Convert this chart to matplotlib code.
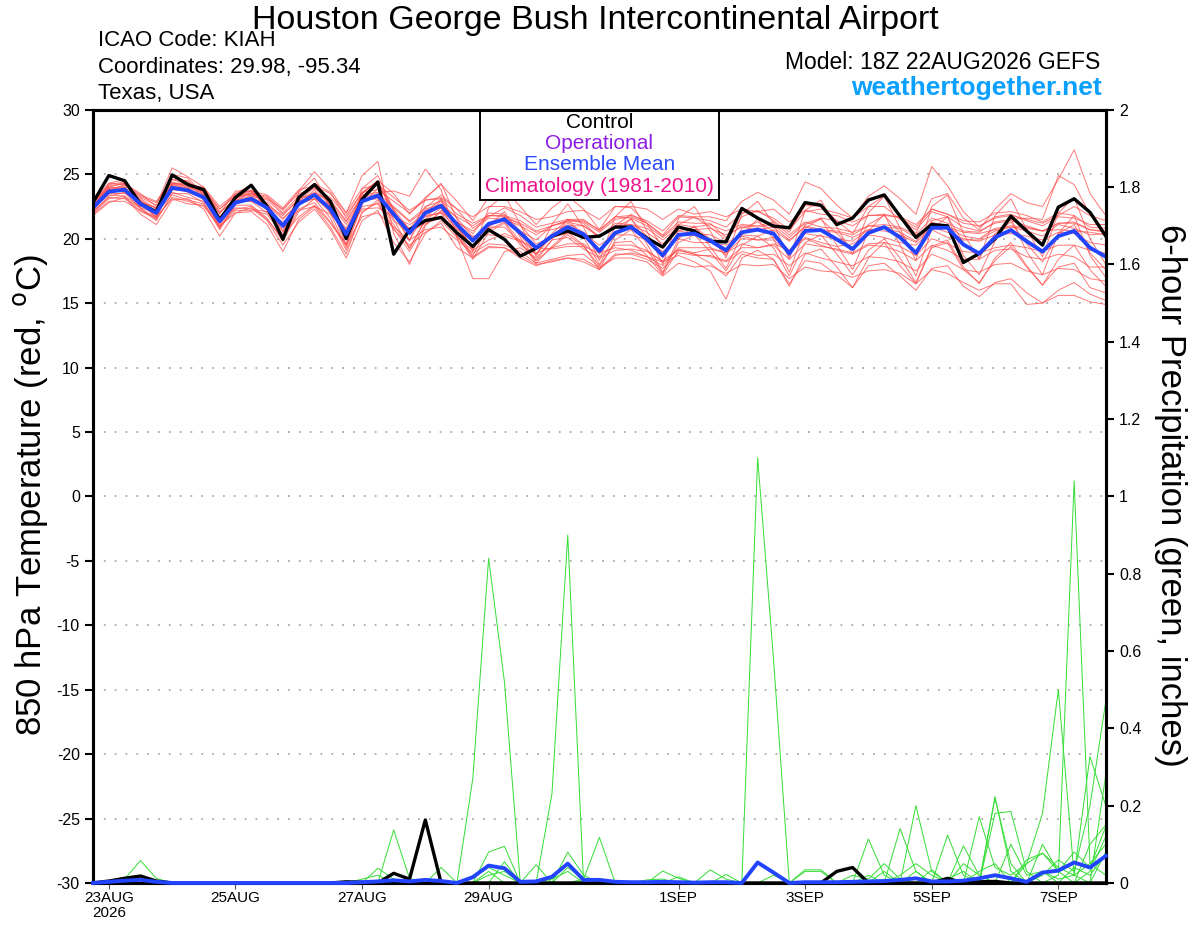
import matplotlib
matplotlib.use("Agg")
import matplotlib.pyplot as plt
from matplotlib.patches import Rectangle
import numpy as np
import pandas as pd

plt.rcParams['font.family'] = ['Liberation Sans', 'DejaVu Sans']
plt.rcParams['axes.unicode_minus'] = False

# 6-hourly valid times, 22AUG 18Z -> 7SEP 18Z
times = pd.date_range("2026-08-22 18:00", periods=65, freq="6h")

tick_dates = pd.to_datetime(["2026-08-23", "2026-08-25", "2026-08-27", "2026-08-29",
                             "2026-09-01", "2026-09-03", "2026-09-05", "2026-09-07"])
tick_labels = ["23AUG\n2026", "25AUG", "27AUG", "29AUG", "1SEP", "3SEP", "5SEP", "7SEP"]

# 850 hPa temperature, control and ensemble mean (C)
t_control = [22.8, 24.9, 24.5, 22.7, 22.1, 24.95, 24.2, 23.8, 21.45, 23.2,
             24.15, 22.5, 19.95, 23.2, 24.2, 22.9, 20.0, 23.05, 24.4, 18.8,
             20.7, 21.4, 21.65, 20.45, 19.4, 20.7, 19.95, 18.65, 19.25, 20.2,
             20.6, 20.1, 20.2, 20.9, 20.9, 20.05, 19.35, 20.9, 20.6, 19.8,
             19.75, 22.35, 21.6, 20.98, 20.85, 22.8, 22.6, 21.1, 21.6, 23.0,
             23.4, 21.75, 20.1, 21.1, 21.0, 18.15, 18.85, 20.0, 21.75, 20.6,
             19.5, 22.45, 23.1, 22.05, 20.2]
t_mean = [22.4, 23.65, 23.8, 22.7, 22.0, 23.95, 23.75, 23.2, 21.35, 22.8,
          23.1, 22.4, 21.0, 22.7, 23.4, 22.3, 20.35, 22.9, 23.35, 21.9,
          20.45, 22.0, 22.55, 21.1, 19.85, 21.15, 21.5, 20.45, 19.3, 20.2,
          20.9, 20.35, 19.05, 20.45, 20.9, 19.95, 18.7, 20.3, 20.4, 19.85,
          19.1, 20.5, 20.7, 20.4, 18.85, 20.6, 20.67, 19.95, 19.2, 20.45,
          20.9, 20.1, 18.9, 20.85, 20.85, 19.55, 18.85, 20.1, 20.67, 19.8,
          19.0, 20.2, 20.6, 19.3, 18.6]

# ensemble members (C)
t_members = [
    [22.7, 24.2, 24.4, 22.9, 22.1, 24.8, 24.4, 23.5, 21.6, 23.2, 23.8, 22.7, 20.8, 23.2, 24.2, 22.8, 20.5, 23.5, 24.4, 22.3,
     20.7, 22.5, 22.9, 20.9, 19.4, 20.9, 20.9, 19.7, 18.3, 19.3, 20.3, 19.4, 17.9, 19.7, 19.8, 18.7, 17.2, 19.1, 18.8, 18.1,
     17.1, 18.8, 18.5, 18.4, 16.5, 18.3, 18.1, 17.2, 16.2, 17.9, 18.1, 17.1, 16.0, 17.7, 17.9, 16.3, 15.5, 16.6, 16.9, 15.8,
     15.0, 16.0, 16.6, 15.7, 15.2],
    [22.1, 23.3, 23.6, 22.3, 21.4, 23.5, 23.5, 22.8, 20.7, 22.6, 22.6, 21.6, 19.8, 22.1, 23.1, 21.6, 19.1, 22.0, 23.0, 21.1,
     19.3, 21.4, 22.4, 20.3, 18.4, 20.5, 21.2, 19.5, 18.8, 20.4, 21.5, 21.2, 20.1, 21.0, 21.9, 21.2, 19.3, 21.1, 21.7, 20.9,
     19.9, 21.7, 22.2, 21.4, 20.5, 22.6, 22.5, 21.4, 20.4, 22.5, 23.3, 21.7, 20.4, 23.1, 23.5, 21.6, 20.7, 22.3, 23.5, 22.8,
     22.5, 24.6, 26.9, 23.5, 21.8],
    [22.5, 23.9, 23.7, 23.0, 22.0, 24.3, 24.3, 23.6, 22.0, 23.1, 23.5, 23.3, 22.2, 23.7, 25.2, 23.8, 22.0, 24.9, 26.0, 20.4,
     18.0, 21.0, 22.2, 21.3, 20.4, 22.0, 21.9, 20.6, 19.9, 21.0, 21.3, 21.0, 20.1, 21.2, 21.1, 20.5, 19.6, 20.6, 20.4, 20.3,
     19.7, 20.2, 19.9, 19.9, 18.9, 20.0, 19.5, 19.1, 18.8, 19.5, 19.4, 19.0, 18.3, 19.5, 19.1, 18.4, 18.4, 19.1, 19.2, 18.6,
     18.4, 18.8, 18.6, 17.8, 17.8],
    [22.2, 23.7, 24.2, 23.2, 22.6, 25.5, 24.8, 24.0, 21.9, 23.7, 23.7, 22.6, 21.8, 23.1, 23.5, 22.9, 21.3, 23.4, 23.6, 23.7,
     23.3, 25.4, 23.8, 20.1, 16.9, 16.9, 19.0, 19.3, 18.5, 19.9, 20.1, 19.2, 18.5, 19.1, 19.2, 19.0, 18.3, 19.2, 18.9, 19.2,
     18.9, 19.6, 19.3, 19.6, 19.1, 20.1, 19.7, 19.4, 19.6, 20.3, 20.1, 19.7, 19.5, 20.7, 20.1, 19.9, 19.9, 20.6, 20.9, 20.6,
     20.2, 21.1, 20.8, 20.3, 20.4],
    [22.4, 23.4, 23.3, 22.5, 22.2, 23.6, 23.2, 22.9, 21.4, 22.4, 22.3, 22.1, 21.3, 22.2, 22.5, 21.9, 20.6, 22.3, 22.4, 21.7,
     21.1, 21.8, 22.0, 21.3, 20.6, 21.6, 21.5, 21.0, 20.3, 21.0, 21.4, 21.3, 20.5, 21.5, 21.7, 21.2, 20.3, 21.7, 21.6, 21.4,
     20.9, 22.0, 22.1, 21.6, 20.7, 22.1, 22.3, 22.0, 21.6, 23.3, 24.1, 23.1, 21.9, 25.6, 24.1, 22.1, 20.9, 21.7, 21.9, 21.4,
     21.0, 21.7, 21.6, 21.1, 21.1],
    [22.0, 23.1, 23.3, 22.1, 21.6, 23.2, 22.9, 22.5, 20.9, 22.2, 22.2, 21.9, 20.3, 21.7, 22.6, 21.2, 19.5, 21.7, 22.0, 20.9,
     19.9, 20.7, 20.9, 19.9, 18.9, 19.6, 19.5, 19.0, 18.1, 18.4, 18.7, 18.8, 17.8, 18.5, 18.5, 18.2, 17.1, 18.1, 17.8, 17.9,
     17.3, 18.0, 17.9, 18.0, 16.9, 17.8, 17.5, 17.4, 17.0, 17.5, 17.6, 17.3, 16.5, 17.6, 17.3, 16.6, 16.0, 16.5, 16.5, 14.9,
     15.0, 15.6, 15.6, 15.1, 14.9],
    [22.6, 24.0, 23.9, 23.1, 22.3, 24.2, 23.9, 23.7, 22.1, 23.0, 23.3, 23.0, 21.9, 23.0, 23.6, 23.0, 21.4, 23.2, 23.5, 22.5,
     21.4, 22.4, 23.4, 22.3, 20.8, 21.7, 22.4, 21.8, 20.9, 21.2, 21.5, 21.5, 20.6, 21.7, 21.6, 21.0, 20.1, 21.1, 20.9, 21.1,
     20.6, 21.1, 21.0, 21.3, 20.3, 21.3, 20.9, 20.8, 20.5, 21.0, 20.9, 20.8, 20.1, 21.3, 20.9, 20.5, 20.4, 20.7, 20.9, 20.8,
     20.6, 20.7, 20.6, 20.5, 20.3],
    [22.3, 23.8, 23.8, 22.4, 21.5, 24.3, 24.2, 23.2, 20.8, 22.7, 23.4, 22.2, 20.1, 22.6, 23.8, 22.0, 19.3, 22.7, 23.9, 21.5,
     19.2, 21.5, 23.0, 20.5, 18.7, 21.0, 22.1, 20.1, 18.3, 19.9, 21.5, 20.1, 18.0, 20.3, 21.6, 19.6, 17.4, 20.0, 21.0, 19.4,
     17.7, 20.3, 21.5, 20.0, 17.4, 20.8, 21.6, 19.5, 17.6, 20.6, 21.9, 19.5, 17.1, 20.7, 21.7, 18.7, 17.2, 19.8, 21.6, 19.0,
     17.2, 20.4, 21.8, 18.7, 17.0],
    [22.8, 23.9, 24.1, 23.3, 22.8, 24.4, 24.0, 23.8, 22.3, 23.3, 23.4, 23.1, 22.3, 23.5, 23.9, 23.2, 21.8, 23.6, 23.8, 22.9,
     22.0, 23.0, 23.2, 22.3, 21.7, 22.5, 22.5, 22.1, 21.5, 21.7, 22.1, 22.2, 21.5, 22.5, 22.5, 22.3, 21.5, 22.3, 21.9, 22.1,
     21.7, 22.3, 22.1, 22.3, 21.3, 22.2, 21.9, 21.8, 21.3, 21.8, 21.8, 21.7, 21.1, 22.3, 21.9, 21.4, 21.3, 22.0, 22.1, 21.8,
     21.3, 22.0, 21.8, 20.9, 20.8],
    [21.9, 22.9, 22.9, 22.2, 21.7, 23.1, 22.7, 22.6, 21.0, 22.0, 22.1, 21.1, 19.0, 21.5, 22.5, 20.9, 18.8, 22.1, 22.8, 20.8,
     19.0, 21.1, 22.1, 20.8, 19.3, 21.0, 21.7, 20.3, 18.8, 20.2, 21.2, 20.5, 18.8, 20.9, 21.5, 20.2, 18.5, 20.6, 20.9, 20.0,
     18.7, 20.8, 21.3, 20.6, 18.6, 21.1, 21.5, 20.4, 19.2, 21.1, 21.8, 20.5, 18.7, 21.4, 21.7, 19.7, 18.5, 20.4, 21.3, 19.6,
     18.2, 20.4, 21.1, 18.9, 17.6],
    [22.5, 23.6, 24.0, 22.7, 21.8, 24.1, 24.1, 23.4, 21.2, 22.9, 23.6, 22.5, 20.6, 22.9, 24.0, 22.5, 20.1, 23.3, 24.2, 22.2,
     20.3, 22.3, 22.7, 21.6, 20.1, 20.9, 21.7, 21.1, 19.6, 20.1, 20.4, 20.4, 19.5, 20.3, 20.3, 19.9, 19.0, 20.0, 19.7, 19.7,
     19.5, 20.3, 20.2, 20.7, 19.8, 21.0, 20.7, 20.6, 20.3, 21.0, 21.1, 20.9, 20.3, 21.6, 21.2, 20.6, 20.5, 21.3, 21.5, 21.6,
     21.5, 24.9, 24.2, 21.9, 20.1],
    [22.2, 24.1, 24.3, 22.8, 21.6, 24.6, 24.5, 23.3, 21.1, 23.1, 23.7, 22.4, 20.5, 23.2, 24.3, 22.6, 20.0, 23.5, 24.5, 21.8,
     19.9, 22.0, 23.1, 21.0, 19.2, 20.7, 21.3, 19.8, 18.1, 19.4, 20.5, 19.5, 17.6, 19.9, 20.7, 19.2, 17.3, 19.7, 20.3, 19.0,
     17.5, 19.5, 20.2, 19.3, 17.1, 19.7, 20.3, 18.8, 17.2, 19.1, 20.0, 18.5, 16.6, 19.4, 19.9, 17.8, 16.5, 18.5, 19.7, 17.9,
     16.4, 17.8, 18.1, 16.2, 15.8],
    [22.7, 23.5, 23.5, 22.9, 22.4, 23.8, 23.7, 23.3, 21.7, 22.7, 23.1, 22.8, 21.6, 22.7, 23.1, 22.7, 21.1, 23.1, 23.2, 22.4,
     21.3, 22.2, 22.6, 21.7, 21.0, 21.8, 21.8, 21.4, 20.6, 21.0, 21.4, 21.4, 20.7, 21.7, 21.8, 21.4, 20.6, 21.8, 21.7, 21.7,
     21.4, 22.9, 23.6, 23.0, 21.9, 24.4, 23.9, 22.6, 21.6, 22.5, 22.5, 21.5, 20.7, 22.1, 21.7, 20.9, 20.6, 21.2, 21.4, 21.0,
     20.6, 21.2, 21.2, 20.7, 20.6],
    [22.4, 23.8, 24.0, 22.6, 22.1, 24.0, 24.0, 23.0, 21.5, 23.0, 22.9, 22.0, 21.0, 22.9, 23.3, 22.0, 20.7, 23.0, 23.1, 21.4,
     20.5, 21.2, 21.6, 20.7, 20.2, 20.3, 20.2, 19.8, 19.3, 19.2, 19.4, 19.4, 18.9, 19.3, 19.1, 18.6, 18.2, 18.7, 18.2, 17.5,
     15.3, 18.5, 19.1, 18.4, 16.3, 18.8, 19.2, 17.8, 16.2, 18.5, 19.7, 17.9, 16.5, 19.3, 19.7, 17.6, 16.6, 18.3, 19.4, 17.8,
     16.4, 18.4, 19.5, 17.6, 16.3],
    [22.9, 24.3, 24.2, 23.4, 22.9, 24.6, 24.2, 24.0, 22.5, 23.5, 23.7, 23.4, 22.4, 23.8, 24.1, 23.5, 22.0, 23.9, 24.2, 23.2,
     22.2, 23.0, 23.1, 21.9, 21.2, 21.8, 21.7, 21.2, 20.5, 20.7, 21.0, 21.0, 20.2, 21.0, 21.1, 20.8, 19.9, 20.9, 20.7, 20.8,
     20.3, 20.9, 20.7, 20.9, 19.9, 20.9, 20.6, 20.5, 20.1, 20.7, 20.6, 20.3, 19.7, 20.9, 20.5, 20.0, 19.8, 20.3, 20.4, 20.2,
     19.9, 20.5, 20.4, 19.7, 19.5],
    [22.1, 23.2, 23.1, 22.4, 22.0, 23.4, 23.0, 22.7, 21.2, 22.3, 22.5, 21.5, 20.0, 22.3, 22.8, 21.3, 19.6, 22.5, 22.7, 20.7,
     19.5, 20.5, 21.2, 19.3, 18.5, 19.3, 19.3, 18.7, 18.0, 18.2, 18.5, 18.4, 17.7, 18.8, 18.8, 18.4, 17.7, 18.9, 18.7, 18.7,
     18.3, 19.3, 19.3, 19.5, 18.4, 19.6, 19.4, 19.2, 18.9, 19.6, 19.7, 19.4, 18.7, 20.0, 19.6, 19.0, 18.9, 19.3, 19.5, 19.3,
     19.0, 19.5, 19.5, 19.1, 18.9],
    [23.0, 24.0, 24.3, 23.5, 22.5, 24.2, 24.2, 23.9, 22.3, 23.4, 23.5, 23.2, 22.0, 23.3, 24.3, 23.6, 21.6, 23.6, 24.5, 23.5,
     21.9, 23.2, 24.2, 22.9, 21.4, 23.2, 23.8, 22.5, 21.1, 22.4, 23.3, 22.3, 20.7, 22.5, 22.4, 21.2, 20.2, 21.3, 21.2, 21.2,
     20.1, 21.0, 20.9, 21.1, 20.1, 21.2, 21.6, 21.4, 21.0, 21.8, 21.9, 21.6, 20.9, 22.3, 21.9, 21.2, 21.0, 21.6, 21.8, 21.5,
     21.2, 21.8, 22.5, 21.8, 21.4],
    [21.8, 22.8, 23.2, 21.9, 21.1, 23.0, 23.1, 22.3, 20.2, 22.0, 22.4, 21.4, 19.5, 21.3, 22.3, 20.7, 18.5, 21.4, 22.2, 19.7,
     18.2, 20.4, 21.4, 20.1, 19.1, 19.9, 20.4, 19.9, 18.9, 19.3, 19.6, 19.6, 18.6, 19.5, 19.5, 19.1, 18.2, 19.1, 18.8, 18.6,
     18.2, 19.0, 18.7, 18.8, 17.9, 18.9, 18.5, 18.2, 17.9, 18.6, 18.5, 18.2, 17.5, 18.8, 18.3, 17.6, 17.4, 18.0, 18.1, 17.5,
     17.2, 17.7, 17.6, 16.9, 16.7],
    [22.4, 24.3, 24.6, 22.7, 21.7, 25.0, 24.7, 23.4, 20.9, 23.5, 24.2, 22.5, 20.2, 23.6, 24.7, 22.5, 19.5, 23.9, 24.9, 22.2,
     19.8, 23.1, 24.3, 21.5, 19.0, 22.4, 23.4, 21.1, 18.6, 21.1, 22.7, 20.9, 18.3, 21.7, 22.9, 20.6, 18.0, 21.6, 22.5, 20.6,
     18.5, 21.9, 22.9, 21.2, 18.4, 22.2, 23.0, 20.9, 18.8, 22.0, 23.3, 20.8, 18.3, 22.5, 23.4, 20.4, 18.4, 21.8, 23.1, 20.7,
     18.6, 22.0, 23.2, 20.0, 18.0],
    [22.6, 23.8, 23.6, 22.8, 22.4, 24.1, 23.6, 23.2, 21.7, 22.9, 22.9, 22.6, 21.5, 22.8, 23.1, 22.3, 20.8, 23.1, 23.2, 21.9,
     20.8, 21.7, 22.0, 20.2, 18.6, 19.4, 19.3, 18.5, 17.9, 18.3, 18.5, 18.2, 17.6, 18.7, 18.9, 18.6, 17.9, 19.3, 19.3, 19.3,
     18.9, 20.0, 19.9, 20.1, 19.1, 20.4, 20.2, 20.0, 19.8, 20.7, 20.8, 20.5, 19.8, 21.2, 20.9, 20.2, 20.0, 20.8, 21.0, 20.9,
     20.6, 21.2, 21.3, 20.7, 20.5],
]

# 6-hour precipitation, control and ensemble mean (inches)
p_control = [0, 0.005, 0.012, 0.018, 0.005, 0, 0, 0, 0, 0,
             0, 0, 0, 0, 0, 0, 0.003, 0.002, 0, 0.025,
             0.01, 0.163, 0, 0, 0, 0, 0, 0, 0, 0,
             0, 0, 0, 0, 0, 0, 0, 0, 0, 0,
             0, 0, 0, 0, 0, 0, 0, 0.03, 0.04, 0,
             0, 0, 0, 0, 0.012, 0, 0.003, 0.004, 0, 0,
             0, 0, 0, 0, 0]
p_mean = [0, 0.003, 0.006, 0.008, 0.003, 0, 0, 0, 0, 0,
          0, 0, 0, 0, 0, 0, 0, 0.002, 0.004, 0.007,
          0.004, 0.008, 0.005, 0, 0.015, 0.045, 0.038, 0.003, 0.004, 0.016,
          0.05, 0.008, 0.008, 0.003, 0.002, 0.002, 0.003, 0.002, 0.001, 0.002,
          0.002, 0, 0.053, 0.027, 0, 0.002, 0.002, 0.002, 0.003, 0.004,
          0.005, 0.008, 0.012, 0.004, 0.004, 0.006, 0.012, 0.02, 0.012, 0.003,
          0.027, 0.032, 0.053, 0.04, 0.07]

p_members = [
    [0, 0, 0.01, 0.058, 0.012, 0, 0, 0, 0, 0, 0, 0, 0, 0, 0, 0, 0, 0, 0, 0,
     0, 0, 0, 0, 0.27, 0.84, 0.52, 0, 0, 0, 0, 0, 0, 0, 0, 0, 0, 0, 0, 0,
     0, 0, 0, 0, 0, 0.03, 0.03, 0, 0, 0, 0, 0, 0.2, 0.03, 0, 0, 0, 0.22, 0.05, 0,
     0, 0, 0, 0.1, 0.15],
    [0, 0.005, 0.015, 0.02, 0, 0, 0, 0, 0, 0, 0, 0, 0, 0, 0, 0, 0, 0, 0, 0,
     0, 0, 0, 0, 0, 0, 0, 0, 0, 0.23, 0.9, 0, 0, 0, 0, 0, 0, 0, 0, 0,
     0, 0, 0, 0, 0, 0, 0, 0, 0, 0.114, 0.02, 0, 0, 0, 0, 0.096, 0.02, 0, 0, 0,
     0.1, 0.03, 0, 0, 0.08],
    [0, 0, 0, 0, 0, 0, 0, 0, 0, 0, 0, 0, 0, 0, 0, 0, 0, 0, 0.038, 0.01,
     0, 0, 0, 0, 0, 0, 0, 0, 0, 0, 0, 0, 0, 0, 0, 0, 0, 0, 0, 0,
     0, 0, 1.1, 0.58, 0, 0, 0, 0, 0, 0, 0, 0.141, 0.03, 0, 0, 0, 0, 0, 0, 0.05,
     0.077, 0.04, 0.02, 0, 0.28],
    [0, 0, 0, 0, 0, 0, 0, 0, 0, 0, 0, 0, 0, 0, 0, 0, 0, 0, 0, 0.137,
     0.012, 0, 0, 0, 0, 0, 0, 0, 0, 0, 0, 0, 0, 0, 0, 0, 0.031, 0.012, 0, 0,
     0, 0, 0, 0, 0, 0, 0, 0, 0, 0, 0, 0, 0, 0, 0.124, 0.02, 0, 0, 0, 0,
     0, 0.02, 1.04, 0.05, 0.1],
    [0, 0, 0, 0, 0, 0, 0, 0, 0, 0, 0, 0, 0, 0, 0, 0, 0, 0, 0, 0,
     0, 0, 0.04, 0, 0, 0, 0, 0, 0, 0, 0, 0, 0, 0, 0, 0, 0, 0, 0, 0,
     0, 0, 0, 0, 0, 0, 0, 0, 0, 0, 0, 0, 0, 0, 0, 0, 0.171, 0.04, 0.02, 0.05,
     0.18, 0.5, 0.02, 0.05, 0.02],
    [0, 0, 0, 0, 0, 0, 0, 0, 0, 0, 0, 0, 0, 0, 0, 0, 0, 0, 0, 0,
     0, 0, 0, 0, 0, 0.08, 0.095, 0, 0, 0, 0, 0.01, 0.118, 0, 0, 0, 0, 0, 0, 0.034,
     0.01, 0, 0, 0, 0, 0, 0, 0, 0, 0, 0, 0, 0, 0, 0, 0, 0, 0.18, 0.185, 0.03,
     0, 0, 0, 0.03, 0.12],
    [0, 0, 0, 0, 0, 0, 0, 0, 0, 0, 0, 0, 0, 0, 0, 0, 0, 0, 0, 0,
     0, 0, 0, 0, 0, 0, 0.055, 0, 0.047, 0, 0.08, 0.02, 0, 0, 0, 0, 0, 0, 0, 0,
     0, 0, 0, 0, 0, 0, 0, 0, 0.02, 0.01, 0.05, 0.01, 0, 0, 0, 0, 0, 0.223, 0.03, 0,
     0.02, 0.06, 0.03, 0.2, 0.47],
    [0, 0, 0.008, 0.012, 0, 0, 0, 0, 0, 0, 0, 0, 0, 0, 0, 0, 0, 0.01, 0.02, 0,
     0, 0, 0, 0, 0, 0.03, 0, 0, 0, 0.01, 0.03, 0, 0, 0, 0, 0, 0, 0.016, 0, 0,
     0.022, 0, 0, 0, 0, 0, 0, 0, 0, 0, 0, 0, 0, 0.034, 0, 0.05, 0.02, 0, 0, 0.06,
     0.077, 0.03, 0.08, 0.04, 0.146],
    [0, 0, 0, 0, 0, 0, 0, 0, 0, 0, 0, 0, 0, 0, 0, 0, 0, 0, 0, 0,
     0.005, 0, 0, 0, 0.015, 0.04, 0.02, 0, 0, 0, 0, 0, 0, 0, 0, 0.008, 0.01, 0, 0, 0,
     0, 0, 0, 0, 0, 0.034, 0.034, 0, 0, 0.02, 0, 0.02, 0.05, 0.02, 0, 0, 0.03, 0.05, 0, 0,
     0.03, 0, 0.04, 0.02, 0.077],
    [0, 0, 0, 0, 0, 0, 0, 0, 0, 0, 0, 0, 0, 0, 0, 0, 0, 0, 0, 0,
     0, 0, 0, 0, 0, 0.02, 0.03, 0, 0, 0, 0.04, 0.01, 0, 0, 0, 0, 0, 0, 0, 0,
     0, 0, 0, 0.02, 0, 0, 0, 0, 0, 0, 0.03, 0, 0.03, 0, 0.01, 0.03, 0, 0, 0.1, 0.02,
     0.03, 0.01, 0.02, 0.327, 0.2],
]

fig = plt.figure(figsize=(12, 9.27), dpi=100)
ax = fig.add_axes([0.0775, 0.0475, 0.844, 0.834])
ax2 = ax.twinx()

for m in t_members:
    ax.plot(times, m, color="#ff4a4a", lw=0.7, alpha=0.75, zorder=2)
ax.plot(times, t_control, color="black", lw=2.4, zorder=4)
ax.plot(times, t_mean, color="#2244ff", lw=2.8, zorder=5)

for m in p_members:
    ax2.plot(times, m, color="#33dd33", lw=0.7, zorder=2)
ax2.plot(times, p_control, color="black", lw=2.4, zorder=4, clip_on=False)
ax2.plot(times, p_mean, color="#2244ff", lw=2.8, zorder=5, clip_on=False)

ax.set_xlim(times[0], times[-1])
ax.set_ylim(-30, 30)
ax.set_yticks(np.arange(-30, 31, 5))
ax2.set_ylim(0, 2)
ax2.set_yticks(np.arange(0, 2.01, 0.2))
ax2.set_yticklabels(["0", "0.2", "0.4", "0.6", "0.8", "1", "1.2", "1.4", "1.6", "1.8", "2"])

for v in range(-25, 30, 5):
    ax.axhline(v, color="#aaaaaa", lw=1.3, ls=(0, (1, 5)), zorder=1)

ax.set_xticks(tick_dates)
ax.set_xticklabels(tick_labels, fontsize=11, linespacing=1.1)
ax.tick_params(axis="x", length=4, width=0.8, color="#555555", pad=2)
ax.tick_params(axis="y", length=6, width=1.5, labelsize=11.5, direction="out")
ax2.tick_params(axis="y", length=6, width=1.5, labelsize=11.5, direction="out")

for a in (ax, ax2):
    for s in a.spines.values():
        s.set_linewidth(2.2)

fig.text(31 / 1200, 1 - 495 / 927, "850 hPa Temperature (red, $^{\\mathrm{o}}$C)",
         fontsize=25, rotation=90, ha="center", va="center")
fig.text(1170 / 1200, 1 - 495 / 927, "6-hour Precipitation (green, inches)",
         fontsize=25, rotation=-90, ha="center", va="center")

# legend box
ax.add_patch(Rectangle((0.382, 0.884), 0.2365, 0.116, transform=ax.transAxes,
                       facecolor="white", edgecolor="black", lw=1.4, zorder=6, clip_on=False))
leg_y = [0.984, 0.956, 0.929, 0.901]
leg_txt = ["Control", "Operational", "Ensemble Mean", "Climatology (1981-2010)"]
leg_col = ["black", "#8c1ee6", "#2a4bff", "#f0148c"]
for yy, tt, cc in zip(leg_y, leg_txt, leg_col):
    ax.text(0.5, yy, tt, color=cc, fontsize=15, ha="center", va="center",
            transform=ax.transAxes, zorder=7)

fig.text(0.496, 0.9684, "Houston George Bush Intercontinental Airport", fontsize=24.5,
         ha="center", va="baseline")
fig.text(0.0815, 0.9504, "ICAO Code: KIAH", fontsize=16, va="baseline")
fig.text(0.0815, 0.9213, "Coordinates: 29.98, -95.34", fontsize=16, va="baseline")
fig.text(0.0815, 0.8929, "Texas, USA", fontsize=16, va="baseline")
fig.text(0.9167, 0.9256, "Model: 18Z 22AUG2026 GEFS", fontsize=16.5, ha="right", va="baseline")
fig.text(0.9183, 0.8975, "weathertogether.net", fontsize=19, fontweight="bold",
         color="#0aa0ff", ha="right", va="baseline")

fig.savefig("out.png", dpi=100, facecolor="white")
